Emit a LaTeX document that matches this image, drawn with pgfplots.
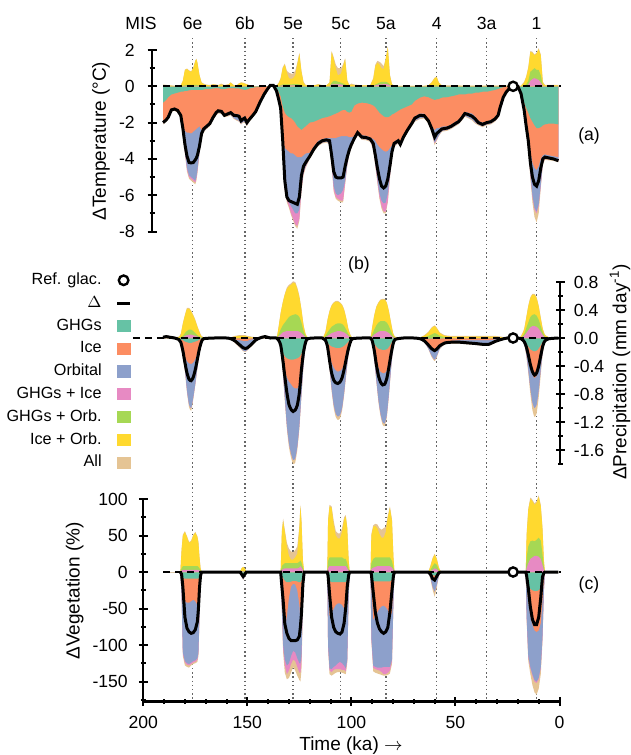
\documentclass[border=0pt]{standalone}
\usepackage{fontspec}
\setmainfont{Liberation Sans}
\usepackage{pgfplots}
\pgfplotsset{compat=1.18}
\usepackage{pgfplotstable}

\definecolor{cG}{RGB}{102,194,165}
\definecolor{cI}{RGB}{252,141,98}
\definecolor{cO}{RGB}{141,160,203}
\definecolor{cK}{RGB}{231,138,195}
\definecolor{cN}{RGB}{166,216,84}
\definecolor{cY}{RGB}{255,217,47}
\definecolor{cA}{RGB}{229,196,148}

% t = time (ka); d = Delta; g,i,o,k,a = cumulative negative boundaries (GHGs, Ice, Orbital, GHGs+Ice, All)
% pk,pg,py,pa = cumulative positive boundaries (GHGs+Ice, GHGs+Orb., Ice+Orb., All)
\pgfplotstableread{
t d g i o k a pk pg py pa
190.5 -2.00 -0.90 -1.95 -2.05 -2.05 -2.10 0 0 0.05 0.10
189 -1.85 -0.75 -1.80 -1.90 -1.90 -1.95 0 0 0.05 0.08
188 -1.70 -0.60 -1.65 -1.75 -1.75 -1.80 0 0 0.05 0.05
186.5 -1.30 -0.45 -1.25 -1.35 -1.35 -1.40 0 0 0.03 0.05
185 -1.25 -0.40 -1.20 -1.30 -1.30 -1.35 0 0 0.02 0.03
183.5 -1.33 -0.35 -1.28 -1.40 -1.40 -1.45 0 0 0.02 0.03
182 -1.60 -0.30 -1.55 -1.70 -1.70 -1.75 0 0 0.05 0.05
181 -2.30 -0.30 -2.20 -2.50 -2.50 -2.55 0 0.03 0.30 0.30
180 -3.20 -0.25 -2.45 -3.60 -3.65 -3.70 0.02 0.05 0.90 0.92
179 -3.85 -0.25 -2.55 -4.50 -4.60 -4.70 0.03 0.08 0.95 0.98
178 -4.20 -0.22 -2.55 -4.90 -5.00 -5.10 0.03 0.08 0.85 0.88
177 -4.22 -0.20 -2.60 -5.00 -5.10 -5.20 0.03 0.08 0.80 0.82
176 -4.20 -0.20 -2.50 -5.10 -5.20 -5.30 0.03 0.08 1.00 1.02
175 -4.05 -0.20 -2.40 -5.20 -5.30 -5.40 0.03 0.08 1.40 1.42
174.5 -3.95 -0.20 -2.35 -5.00 -5.10 -5.20 0.03 0.08 1.50 1.52
174 -3.80 -0.20 -2.30 -4.60 -4.70 -4.80 0.03 0.06 1.30 1.32
173 -3.30 -0.20 -2.20 -3.60 -3.65 -3.70 0.02 0.05 0.60 0.62
172 -2.60 -0.20 -2.40 -2.80 -2.80 -2.85 0 0.03 0.20 0.22
171 -2.35 -0.18 -2.30 -2.50 -2.50 -2.55 0 0 0.12 0.15
170 -2.25 -0.15 -2.20 -2.35 -2.35 -2.40 0 0 0.08 0.10
168 -2.05 -0.15 -2.00 -2.15 -2.15 -2.20 0 0 0.05 0.07
166.5 -1.72 -0.12 -1.65 -1.80 -1.80 -1.85 0 0 0.10 0.12
165 -1.45 -0.10 -1.40 -1.55 -1.55 -1.60 0 0 0.08 0.10
164 -1.35 -0.10 -1.30 -1.45 -1.45 -1.50 0 0 0.05 0.07
162.5 -1.38 -0.15 -1.32 -1.48 -1.48 -1.52 0 0 0.10 0.15
161 -1.60 -0.15 -1.55 -1.65 -1.65 -1.70 0 0 0.05 0.07
159 -1.50 -0.10 -1.45 -1.60 -1.60 -1.65 0 0 0.10 0.12
158 -1.45 -0.10 -1.40 -1.55 -1.55 -1.60 0 0 0.20 0.22
156.5 -1.60 -0.10 -1.50 -1.75 -1.75 -1.80 0 0 0.05 0.07
155 -1.62 -0.12 -1.52 -1.85 -1.85 -1.90 0 0 0.05 0.07
154 -1.65 -0.12 -1.55 -1.90 -1.90 -1.95 0 0 0.15 0.17
153 -1.90 -0.15 -1.75 -2.05 -2.05 -2.10 0 0 0.20 0.22
152 -1.80 -0.18 -1.70 -1.95 -1.95 -2.00 0 0 0.18 0.20
151.3 -1.75 -0.20 -1.65 -1.95 -1.95 -2.00 0 0 0.15 0.17
150.2 -2.00 -0.18 -1.85 -2.15 -2.15 -2.20 0 0 0.10 0.12
149 -1.82 -0.12 -1.75 -1.90 -1.90 -1.95 0 0 0.05 0.07
147.5 -1.62 -0.08 -1.58 -1.68 -1.68 -1.72 0 0 0.02 0.03
146 -1.40 -0.05 -1.35 -1.45 -1.45 -1.50 0 0 0 0
144 -0.90 -0.05 -0.85 -0.95 -0.95 -1.00 0 0 0 0
142 -0.45 0 -0.42 -0.50 -0.50 -0.52 0 0 0 0
140 -0.10 0 -0.10 -0.12 -0.12 -0.14 0 0 0 0
139 0.05 0 0 0 0 0 0 0 0 0.05
137.5 0.05 0 0 0 0 0 0 0 0 0.05
136 -0.25 -0.10 -0.25 -0.28 -0.28 -0.30 0 0 0.02 0.05
135 -0.70 -0.30 -0.70 -0.75 -0.75 -0.80 0 0.03 0.15 0.20
134 -1.20 -0.55 -1.25 -1.30 -1.30 -1.35 0.03 0.06 0.40 0.45
133 -3.00 -1.10 -2.80 -3.30 -3.35 -3.40 0.05 0.10 1.00 1.05
132 -5.20 -1.45 -3.40 -5.60 -5.70 -5.80 0.05 0.10 1.20 1.25
131 -6.10 -1.60 -3.50 -6.20 -6.30 -6.40 0.05 0.10 0.75 0.85
130 -6.30 -1.70 -3.60 -6.40 -6.60 -6.70 0.05 0.10 0.45 0.75
129 -6.35 -1.75 -3.70 -6.60 -7.00 -7.10 0.05 0.10 0.40 0.70
128 -6.40 -1.85 -3.70 -6.80 -7.30 -7.40 0.05 0.12 0.45 0.70
127 -6.45 -2.00 -3.80 -7.00 -7.60 -7.70 0.05 0.12 0.60 0.85
126 -6.50 -2.20 -3.90 -7.00 -7.70 -7.85 0.05 0.12 1.20 1.30
125 -6.10 -2.30 -3.90 -6.80 -7.30 -7.40 0.05 0.10 1.80 1.85
124 -4.90 -2.40 -3.90 -5.50 -5.70 -5.80 0.03 0.06 0.80 0.85
123 -4.40 -2.30 -3.80 -4.70 -4.80 -4.90 0 0.03 0.20 0.25
122 -4.20 -2.20 -3.70 -4.40 -4.45 -4.50 0 0 0.05 0.08
120 -3.85 -2.00 -3.65 -3.95 -3.95 -4.00 0 0 0.05 0.05
118 -3.45 -1.95 -3.30 -3.55 -3.55 -3.60 0 0 0.05 0.05
116 -3.15 -1.85 -3.00 -3.25 -3.25 -3.30 0 0 0.10 0.12
114 -3.00 -1.75 -2.90 -3.10 -3.10 -3.15 0 0 0.05 0.07
112 -2.95 -1.70 -2.85 -3.05 -3.05 -3.10 0 0 0.05 0.05
110.5 -3.00 -1.65 -2.85 -3.15 -3.15 -3.20 0 0 0.20 0.22
109.5 -3.80 -1.60 -2.85 -4.20 -4.30 -4.40 0.10 0.20 1.90 1.95
108.5 -4.70 -1.55 -2.85 -5.50 -5.70 -5.80 0.10 0.30 1.50 1.60
107.5 -5.00 -1.50 -2.85 -5.90 -6.10 -6.20 0.10 0.30 1.00 1.20
106.5 -5.05 -1.45 -2.80 -6.00 -6.20 -6.30 0.10 0.25 0.60 1.00
105 -5.05 -1.35 -2.75 -5.90 -6.30 -6.40 0.10 0.20 0.70 1.00
104 -5.00 -1.30 -2.75 -5.70 -6.30 -6.40 0.08 0.15 1.10 1.20
103 -4.40 -1.30 -2.75 -5.20 -5.30 -5.40 0.05 0.10 1.50 1.55
102 -3.90 -1.40 -2.75 -4.30 -4.35 -4.40 0 0.05 0.30 0.35
101 -3.50 -1.45 -2.80 -3.70 -3.70 -3.75 0 0 0.05 0.08
100 -3.20 -1.40 -2.80 -3.35 -3.35 -3.40 0 0 0.10 0.15
98.5 -2.85 -1.05 -2.75 -2.95 -2.95 -3.00 0 0 0.05 0.10
97 -2.55 -0.95 -2.45 -2.65 -2.65 -2.70 0 0 0.05 0.08
95 -2.80 -0.90 -2.70 -2.90 -2.90 -2.95 0 0 0.05 0.05
93 -2.82 -0.92 -2.72 -2.92 -2.92 -2.97 0 0 0.05 0.05
91 -2.90 -0.98 -2.80 -3.00 -3.00 -3.05 0 0 0.05 0.05
89.5 -3.15 -1.05 -2.90 -3.40 -3.40 -3.50 0 0.02 0.40 0.45
88.5 -3.80 -1.15 -3.00 -4.20 -4.30 -4.40 0.05 0.10 1.10 1.20
87.5 -4.50 -1.30 -3.20 -5.10 -5.25 -5.35 0.08 0.15 1.30 1.40
86.5 -5.10 -1.45 -3.35 -5.90 -6.10 -6.20 0.10 0.20 1.20 1.35
85.5 -5.50 -1.55 -3.45 -6.30 -6.60 -6.75 0.10 0.25 1.00 1.25
84.5 -5.60 -1.65 -3.55 -6.45 -6.90 -7.00 0.12 0.25 0.95 1.10
83.5 -5.50 -1.70 -3.60 -6.40 -6.90 -7.00 0.12 0.25 1.50 1.55
82.5 -5.10 -1.70 -3.55 -5.90 -6.30 -6.40 0.10 0.20 2.15 2.18
81.5 -4.40 -1.65 -3.40 -4.90 -5.00 -5.10 0.05 0.10 0.60 0.65
80.5 -3.60 -1.55 -3.25 -3.80 -3.85 -3.90 0 0.03 0.10 0.12
79.5 -3.15 -1.50 -3.05 -3.30 -3.30 -3.35 0 0 0.05 0.05
77.5 -3.00 -1.35 -2.90 -3.10 -3.10 -3.15 0 0 0.02 0.03
76.5 -3.20 -1.28 -3.10 -3.30 -3.30 -3.35 0 0 0.02 0.03
75 -2.80 -1.20 -2.70 -2.90 -2.90 -2.95 0 0 0.02 0.03
73 -2.40 -1.10 -2.30 -2.50 -2.50 -2.55 0 0 0.02 0.03
71 -2.05 -1.00 -1.95 -2.15 -2.15 -2.20 0 0 0.02 0.03
69.5 -1.75 -0.80 -1.65 -1.90 -1.90 -1.95 0 0 0.02 0.03
67 -1.60 -0.62 -1.50 -1.75 -1.75 -1.80 0 0 0.02 0.03
65 -1.62 -0.55 -1.50 -1.72 -1.72 -1.78 0 0 0.02 0.03
63 -1.90 -0.60 -1.80 -2.00 -2.00 -2.05 0 0 0.05 0.05
61.5 -2.30 -0.68 -2.15 -2.50 -2.50 -2.55 0 0.02 0.20 0.22
60 -2.80 -0.75 -2.40 -3.10 -3.15 -3.25 0 0.05 0.45 0.48
59 -2.60 -0.72 -2.30 -2.90 -2.95 -3.00 0 0.05 0.50 0.52
58 -2.50 -0.70 -2.30 -2.70 -2.70 -2.75 0 0.02 0.20 0.22
56.5 -2.35 -0.62 -2.22 -2.45 -2.45 -2.50 0 0 0.03 0.05
54 -2.30 -0.60 -2.20 -2.40 -2.40 -2.45 0 0 0.03 0.05
52 -2.20 -0.55 -2.10 -2.30 -2.30 -2.35 0 0 0.03 0.05
50 -2.05 -0.50 -1.95 -2.15 -2.15 -2.20 0 0 0.05 0.05
48.5 -1.95 -0.45 -1.85 -2.05 -2.05 -2.10 0 0 0.03 0.05
47 -1.75 -0.45 -1.65 -1.85 -1.85 -1.90 0 0 0.02 0.04
45.5 -1.50 -0.45 -1.40 -1.62 -1.62 -1.68 0 0 0.02 0.04
44 -1.55 -0.40 -1.45 -1.70 -1.70 -1.75 0 0 0.02 0.04
42 -1.65 -0.40 -1.50 -1.82 -1.82 -1.88 0 0 0.02 0.04
40.5 -1.80 -0.35 -1.65 -1.98 -1.98 -2.05 0 0 0.02 0.04
39 -2.00 -0.35 -1.90 -2.10 -2.10 -2.15 0 0 0.02 0.04
37 -2.10 -0.30 -2.00 -2.20 -2.20 -2.25 0 0 0.02 0.04
35 -2.00 -0.30 -1.95 -2.10 -2.10 -2.15 0 0 0.02 0.04
33 -1.95 -0.25 -1.85 -2.05 -2.05 -2.10 0 0 0.05 0.05
31 -1.80 -0.20 -1.75 -1.90 -1.90 -1.95 0 0 0.02 0.04
29.5 -1.60 -0.15 -1.50 -1.70 -1.70 -1.75 0 0 0.02 0.04
28.5 -1.15 -0.10 -1.10 -1.20 -1.20 -1.25 0 0 0.02 0.04
27 -0.60 -0.05 -0.55 -0.65 -0.65 -0.70 0 0 0.02 0.04
25.5 -0.30 0 -0.30 -0.35 -0.35 -0.38 0 0 0.02 0.04
24 -0.12 0 -0.10 -0.15 -0.15 -0.17 0 0 0.02 0.04
22.3 0 0 0 0 0 0 0 0 0 0
20 0 0 0 0 0 0 0 0 0 0
18.5 -0.40 -0.35 -0.40 -0.45 -0.45 -0.50 0 0 0.02 0.04
17 -1.30 -0.90 -1.40 -1.45 -1.45 -1.50 0 0.05 0.20 0.25
16 -2.20 -1.20 -2.30 -2.50 -2.50 -2.55 0.02 0.10 0.50 0.55
15 -3.00 -1.45 -3.00 -3.30 -3.35 -3.45 0.10 0.30 1.00 1.05
14 -4.20 -1.75 -3.60 -4.80 -4.90 -5.10 0.30 0.80 1.90 1.95
13 -5.00 -1.95 -4.20 -6.00 -6.10 -6.40 0.40 0.90 1.85 1.90
12 -5.40 -2.15 -4.50 -6.70 -6.80 -7.20 0.45 1.00 1.70 1.75
11 -5.50 -2.30 -4.60 -6.90 -7.00 -7.50 0.40 0.90 1.80 1.85
10 -5.20 -2.30 -4.40 -6.50 -6.60 -7.00 0.35 0.90 2.05 2.10
9 -4.50 -2.25 -4.00 -5.40 -5.50 -5.60 0.20 0.60 1.70 1.75
8 -4.00 -2.15 -3.80 -4.20 -4.25 -4.30 0.02 0.05 0.20 0.25
7 -3.90 -2.10 -3.75 -3.95 -4.00 -4.05 0 0 0.05 0.08
5 -3.95 -2.05 -3.80 -3.98 -4.02 -4.08 0 0 0.05 0.08
3 -4.00 -2.05 -3.85 -4.02 -4.06 -4.10 0 0 0.05 0.08
0.5 -4.10 -2.10 -3.90 -4.08 -4.12 -4.18 0 0 0.05 0.08
}\tabA

\pgfplotstableread{
t d g i o k a pk pg py pa
190.5 0.01 0 0 0 0 0 0 0 0.01 0.02
189 0.02 0 0 0 0 0 0 0 0.02 0.03
187 0.01 0 0 0 0 0 0 0 0.01 0.02
185 0 0 0 0 0 0 0 0 0 0.01
183 -0.02 -0.01 -0.02 -0.03 -0.03 -0.04 0 0 0.01 0.02
182 -0.06 -0.02 -0.06 -0.08 -0.08 -0.09 0 0.01 0.05 0.06
181 -0.18 -0.03 -0.17 -0.25 -0.25 -0.27 0.01 0.03 0.20 0.21
180 -0.35 -0.05 -0.27 -0.45 -0.45 -0.48 0.03 0.07 0.32 0.33
179 -0.50 -0.06 -0.33 -0.75 -0.75 -0.78 0.04 0.10 0.42 0.43
178 -0.59 -0.07 -0.36 -0.95 -0.95 -0.99 0.05 0.12 0.42 0.43
177 -0.61 -0.07 -0.37 -1.00 -1.00 -1.04 0.05 0.12 0.38 0.39
176 -0.56 -0.06 -0.35 -0.85 -0.85 -0.88 0.04 0.10 0.32 0.33
175 -0.45 -0.05 -0.30 -0.65 -0.65 -0.67 0.03 0.07 0.25 0.26
174 -0.30 -0.04 -0.22 -0.42 -0.42 -0.44 0.02 0.04 0.16 0.17
173 -0.15 -0.02 -0.12 -0.22 -0.22 -0.23 0.01 0.02 0.08 0.09
172 -0.05 -0.01 -0.04 -0.08 -0.08 -0.09 0 0.01 0.02 0.03
171 -0.01 0 -0.01 -0.02 -0.02 -0.02 0 0 0 0.01
166 0 0 0 0 0 0 0 0 0 0
160 0 0 0 0 0 0 0 0 0 0
158 -0.01 0 -0.01 -0.02 -0.02 -0.02 0 0 0.01 0.01
156 -0.04 0 -0.02 -0.06 -0.06 -0.07 0 0 0.02 0.03
154 -0.09 0 -0.03 -0.12 -0.12 -0.13 0 0 0.03 0.04
152 -0.14 0 -0.04 -0.18 -0.18 -0.19 0 0 0.03 0.04
151 -0.15 0 -0.04 -0.19 -0.19 -0.20 0 0 0.03 0.04
150 -0.14 0 -0.04 -0.17 -0.17 -0.18 0 0 0.02 0.03
148 -0.09 0 -0.02 -0.11 -0.11 -0.12 0 0 0.01 0.02
146 -0.03 0 -0.01 -0.04 -0.04 -0.05 0 0 0 0.01
144 0 0 0 0 0 0 0 0 0 0
141.5 0.02 0 0 0 0 0 0 0 0.01 0.02
139 0 0 0 0 0 0 0 0 0 0
136 0 0 0 0 0 0 0 0 0 0
135 -0.03 -0.02 -0.03 -0.04 -0.04 -0.05 0.02 0.05 0.15 0.16
134 -0.10 -0.08 -0.12 -0.15 -0.15 -0.17 0.05 0.12 0.35 0.36
133 -0.30 -0.20 -0.28 -0.45 -0.45 -0.48 0.08 0.18 0.50 0.51
132 -0.55 -0.26 -0.45 -0.85 -0.85 -0.90 0.09 0.22 0.62 0.63
131 -0.78 -0.29 -0.56 -1.25 -1.25 -1.30 0.10 0.26 0.70 0.72
130 -0.95 -0.30 -0.62 -1.50 -1.50 -1.56 0.10 0.30 0.74 0.76
129 -1.02 -0.31 -0.66 -1.65 -1.65 -1.71 0.10 0.32 0.76 0.78
128 -1.05 -0.31 -0.70 -1.74 -1.74 -1.80 0.10 0.33 0.79 0.81
127 -1.03 -0.30 -0.72 -1.72 -1.72 -1.78 0.10 0.34 0.78 0.80
126 -0.96 -0.29 -0.72 -1.55 -1.55 -1.60 0.10 0.33 0.70 0.72
125 -0.78 -0.27 -0.66 -1.25 -1.25 -1.30 0.09 0.30 0.58 0.60
124 -0.45 -0.22 -0.50 -0.80 -0.80 -0.84 0.07 0.22 0.40 0.41
123 -0.20 -0.14 -0.25 -0.38 -0.38 -0.40 0.04 0.10 0.18 0.19
122 -0.06 -0.05 -0.08 -0.12 -0.12 -0.13 0.01 0.03 0.05 0.06
121 -0.01 -0.01 -0.01 -0.02 -0.02 -0.02 0 0 0.01 0.01
118 0 0 0 0 0 0 0 0 0 0
114 0 0 0 0 0 0 0 0 0 0
112.5 -0.03 -0.02 -0.03 -0.04 -0.04 -0.05 0.01 0.03 0.08 0.09
111.5 -0.12 -0.06 -0.12 -0.18 -0.18 -0.20 0.03 0.08 0.25 0.26
110.5 -0.32 -0.10 -0.25 -0.42 -0.42 -0.45 0.05 0.12 0.38 0.39
109.5 -0.50 -0.12 -0.35 -0.72 -0.72 -0.76 0.07 0.16 0.46 0.47
108.5 -0.60 -0.13 -0.42 -0.95 -0.95 -1.00 0.08 0.18 0.50 0.51
107.5 -0.64 -0.14 -0.46 -1.08 -1.08 -1.13 0.09 0.20 0.52 0.53
106.5 -0.65 -0.14 -0.48 -1.12 -1.12 -1.17 0.10 0.21 0.52 0.53
105.5 -0.63 -0.14 -0.47 -1.10 -1.10 -1.15 0.10 0.21 0.50 0.51
104.5 -0.57 -0.13 -0.44 -1.00 -1.00 -1.04 0.09 0.20 0.47 0.48
103.5 -0.45 -0.11 -0.37 -0.78 -0.78 -0.82 0.08 0.17 0.40 0.41
102.5 -0.30 -0.08 -0.27 -0.50 -0.50 -0.53 0.06 0.12 0.28 0.29
101.5 -0.16 -0.05 -0.15 -0.25 -0.25 -0.27 0.03 0.06 0.13 0.14
100.5 -0.06 -0.02 -0.06 -0.09 -0.09 -0.10 0.01 0.02 0.04 0.05
99.5 -0.01 0 -0.01 -0.02 -0.02 -0.02 0 0 0 0.01
95 0 0 0 0 0 0 0 0 0 0
91 0 0 0 0 0 0 0 0 0 0
90 -0.04 -0.03 -0.05 -0.06 -0.06 -0.07 0.02 0.05 0.15 0.16
89 -0.18 -0.08 -0.18 -0.30 -0.30 -0.32 0.05 0.12 0.32 0.33
88 -0.38 -0.12 -0.32 -0.60 -0.60 -0.63 0.07 0.18 0.44 0.45
87 -0.54 -0.15 -0.42 -0.88 -0.88 -0.92 0.09 0.22 0.50 0.51
86 -0.63 -0.16 -0.48 -1.08 -1.08 -1.12 0.10 0.24 0.54 0.55
85 -0.67 -0.17 -0.50 -1.20 -1.20 -1.24 0.10 0.24 0.55 0.56
84 -0.66 -0.17 -0.50 -1.22 -1.22 -1.26 0.10 0.24 0.55 0.56
83 -0.58 -0.16 -0.46 -1.10 -1.10 -1.14 0.09 0.22 0.50 0.51
82 -0.42 -0.13 -0.36 -0.80 -0.80 -0.84 0.07 0.17 0.38 0.39
81 -0.24 -0.08 -0.22 -0.45 -0.45 -0.47 0.04 0.10 0.22 0.23
80 -0.09 -0.03 -0.08 -0.15 -0.15 -0.16 0.01 0.03 0.07 0.08
79 -0.02 0 -0.01 -0.03 -0.03 -0.03 0 0 0.01 0.02
75 0 0 0 0 0 0 0 0 0 0
70 0 0 0 0 0 0 0 0 0 0
67 -0.01 0 -0.01 -0.02 -0.02 -0.02 0 0 0.01 0.01
65 -0.04 0 -0.04 -0.06 -0.06 -0.06 0 0.01 0.03 0.04
63 -0.10 -0.01 -0.10 -0.15 -0.15 -0.16 0 0.03 0.08 0.09
61.5 -0.15 -0.01 -0.15 -0.25 -0.25 -0.27 0 0.05 0.14 0.15
60 -0.18 -0.01 -0.19 -0.31 -0.31 -0.33 0 0.07 0.17 0.18
59 -0.16 -0.01 -0.16 -0.26 -0.26 -0.28 0 0.06 0.14 0.15
57.5 -0.11 -0.01 -0.10 -0.15 -0.15 -0.16 0 0.03 0.07 0.08
55 -0.07 0 -0.05 -0.08 -0.08 -0.09 0 0.01 0.03 0.04
52 -0.06 0 -0.04 -0.07 -0.07 -0.08 0 0 0.02 0.03
48 -0.06 0 -0.03 -0.07 -0.07 -0.08 0 0 0.02 0.03
44 -0.07 0 -0.03 -0.08 -0.08 -0.09 0 0 0.02 0.03
40 -0.08 0 -0.03 -0.09 -0.09 -0.10 0 0 0.02 0.03
37 -0.09 0 -0.03 -0.10 -0.10 -0.11 0 0 0.02 0.03
34 -0.09 0 -0.03 -0.10 -0.10 -0.11 0 0 0.02 0.03
31 -0.05 0 -0.02 -0.06 -0.06 -0.07 0 0 0.02 0.03
28 -0.02 0 -0.01 -0.02 -0.02 -0.03 0 0 0.01 0.02
25 0 0 0 0 0 0 0 0 0 0
20 0 0 0 0 0 0 0 0 0 0
18.5 -0.01 -0.01 -0.01 -0.02 -0.02 -0.02 0 0 0.02 0.03
17 -0.05 -0.04 -0.06 -0.08 -0.08 -0.09 0.03 0.06 0.12 0.13
16 -0.12 -0.08 -0.14 -0.22 -0.22 -0.25 0.07 0.14 0.28 0.29
15 -0.24 -0.12 -0.26 -0.45 -0.45 -0.50 0.11 0.22 0.45 0.46
14 -0.38 -0.16 -0.40 -0.72 -0.72 -0.80 0.15 0.30 0.57 0.58
13 -0.48 -0.18 -0.52 -0.92 -0.92 -1.03 0.17 0.33 0.62 0.63
12 -0.53 -0.19 -0.57 -1.00 -1.00 -1.13 0.17 0.34 0.62 0.63
11 -0.50 -0.18 -0.54 -0.95 -0.95 -1.08 0.16 0.32 0.57 0.58
10 -0.40 -0.15 -0.45 -0.75 -0.75 -0.85 0.13 0.26 0.45 0.46
9 -0.25 -0.10 -0.30 -0.45 -0.45 -0.52 0.09 0.17 0.28 0.29
8 -0.11 -0.05 -0.13 -0.18 -0.18 -0.21 0.04 0.08 0.12 0.13
7 -0.04 -0.02 -0.04 -0.06 -0.06 -0.07 0.01 0.02 0.04 0.05
5 -0.01 0 -0.01 -0.01 -0.01 -0.01 0 0 0.01 0.01
0.5 0 0 0 0 0 0 0 0 0 0
}\tabB

\pgfplotstableread{
t d g i o k a pk pg py pa
190.5 nan 0 0 0 0 0 0 0 0 0
182.2 0 0 0 0 0 0 0 0 0 0
181.6 -3 -2 -10 -30 -30 -32 2 5 30 31
181 -20 -8 -30 -110 -112 -115 3 8 50 51
180 -62 -9 -40 -122 -124 -128 3 8 55 56
179 -77 -9 -42 -125 -127 -130 3 8 48 49
178 -82 -9 -42 -126 -128 -131 3 8 40 41
177 -84 -9 -40 -124 -126 -128 3 8 42 43
176 -83 -9 -38 -122 -124 -126 3 8 50 51
175 -79 -9 -40 -121 -123 -125 3 8 54 55
174 -68 -9 -45 -118 -120 -123 3 8 48 49
173.5 -50 -9 -45 -110 -112 -115 3 7 40 41
173 -22 -7 -30 -60 -62 -65 2 5 20 21
172.5 -5 -2 -6 -10 -10 -12 1 2 5 6
172 0 0 0 0 0 0 0 0 0 0
153.5 0 0 0 0 0 0 0 0 0 0
152.8 -3 -2 -3 -6 -6 -7 0 0 5 5
152 -6 -3 -5 -10 -10 -11 1 2 7 7
151.2 -3 -2 -3 -6 -6 -7 0 0 5 5
150.5 0 0 0 0 0 0 0 0 0 0
134 0 0 0 0 0 0 0 0 0 0
133.4 -20 -5 -25 -50 -52 -55 3 8 55 58
132.8 -39 -8 -60 -100 -105 -110 4 10 70 73
132 -71 -12 -78 -120 -128 -138 5 12 55 58
131 -84 -14 -60 -128 -140 -147 5 12 35 40
130 -91 -14 -35 -125 -135 -145 5 12 22 32
129 -94 -13 -20 -115 -126 -138 5 12 17 28
128 -94 -12 -16 -108 -120 -130 5 12 17 27
127 -94 -12 -17 -110 -122 -135 5 12 20 30
126 -93 -13 -25 -118 -130 -142 5 12 25 35
125 -88 -14 -45 -125 -138 -148 6 14 60 63
124.5 -75 -14 -65 -125 -138 -150 8 16 90 92
124 -57 -12 -60 -115 -125 -135 6 13 70 72
123.3 -16 -5 -20 -40 -42 -45 3 6 15 16
122.7 0 0 0 0 0 0 0 0 0 0
111.6 0 0 0 0 0 0 0 0 0 0
111.2 -5 -5 -20 -100 -102 -105 5 15 70 72
110.5 -30 -12 -60 -132 -135 -140 8 20 90 92
109.5 -62 -14 -55 -133 -137 -142 8 20 88 90
108.5 -76 -14 -50 -130 -134 -140 8 20 65 70
107.5 -82 -14 -45 -128 -133 -138 8 20 50 56
106.5 -84 -14 -43 -125 -133 -137 8 20 46 53
105.5 -85 -14 -43 -123 -133 -137 8 20 46 53
104.5 -82 -14 -45 -125 -134 -138 8 20 55 60
103.5 -70 -14 -50 -128 -134 -139 8 18 72 75
102.7 -48 -14 -58 -132 -136 -140 8 18 76 78
102 -20 -10 -40 -120 -122 -125 5 12 60 62
101.3 -4 -3 -10 -30 -30 -32 2 4 15 16
100.8 0 0 0 0 0 0 0 0 0 0
90.8 0 0 0 0 0 0 0 0 0 0
90.4 -3 -5 -20 -90 -92 -95 4 12 50 52
89.5 -28 -12 -65 -128 -131 -136 6 18 62 64
88.5 -55 -13 -60 -130 -133 -138 7 20 63 66
87.5 -70 -13 -55 -131 -134 -139 8 20 60 65
86.5 -78 -13 -50 -131 -135 -140 8 20 52 60
85.5 -82 -13 -47 -131 -137 -141 8 20 47 58
84.5 -84 -13 -46 -130 -140 -142 8 20 47 60
83.5 -82 -13 -48 -130 -140 -142 8 20 55 62
82.5 -76 -13 -52 -130 -138 -141 8 20 75 77
81.5 -55 -13 -62 -130 -135 -139 8 20 88 90
80.5 -25 -10 -55 -120 -122 -126 6 15 70 72
79.8 -5 -4 -15 -40 -40 -42 3 6 20 21
79.3 0 0 0 0 0 0 0 0 0 0
63 0 0 0 0 0 0 0 0 0 0
62 -3 -2 -4 -8 -8 -10 1 3 8 9
61 -9 -4 -10 -20 -20 -24 3 8 18 19
60 -11 -5 -12 -27 -27 -34 5 12 24 25
59 -6 -4 -8 -18 -18 -22 4 10 18 19
58 -1 -1 -2 -5 -5 -6 1 3 6 7
57 0 0 0 0 0 0 0 0 0 0
16.2 0 0 0 0 0 0 0 0 0 0
15.8 -5 -10 -20 -60 -62 -65 5 20 50 52
15 -22 -20 -40 -115 -117 -122 12 35 85 87
14 -48 -23 -60 -130 -132 -140 18 42 100 102
13 -65 -25 -72 -140 -142 -155 20 43 97 99
12 -72 -26 -80 -148 -150 -165 22 42 92 94
11 -72 -26 -82 -150 -152 -168 22 44 95 97
10 -62 -25 -80 -145 -147 -160 21 47 103 105
9 -35 -22 -70 -130 -132 -140 18 43 90 92
8.2 -7 -15 -40 -90 -92 -96 10 25 60 62
7.5 -1 -5 -10 -25 -25 -27 3 6 15 16
7 0 0 0 0 0 0 0 0 0 0
0.5 0 0 0 0 0 0 0 0 0 0
}\tabC

\newcommand\fa{\fontsize{8.8}{10}\selectfont}
\newcommand\fl{\fontsize{9.5}{11}\selectfont}
\newcommand\fg{\fontsize{8.1}{9.5}\selectfont}

\newcommand\layers[2]{%
  \addplot[forget plot, draw=none, fill=cA, #2] table[x=t,y=a]{#1} \closedcycle;
  \addplot[forget plot, draw=none, fill=cK, #2] table[x=t,y=k]{#1} \closedcycle;
  \addplot[forget plot, draw=none, fill=cO, #2] table[x=t,y=o]{#1} \closedcycle;
  \addplot[forget plot, draw=none, fill=cI, #2] table[x=t,y=i]{#1} \closedcycle;
  \addplot[forget plot, draw=none, fill=cG, #2] table[x=t,y=g]{#1} \closedcycle;
  \addplot[forget plot, draw=none, fill=cA, #2] table[x=t,y=pa]{#1} \closedcycle;
  \addplot[forget plot, draw=none, fill=cY, #2] table[x=t,y=py]{#1} \closedcycle;
  \addplot[forget plot, draw=none, fill=cN, #2] table[x=t,y=pg]{#1} \closedcycle;
  \addplot[forget plot, draw=none, fill=cK, #2] table[x=t,y=pk]{#1} \closedcycle;
}

\pgfplotsset{
  base/.style={
    x=1.0405pt, x dir=reverse,
    anchor=origin,
    tick align=inside,
    major tick length=4.5pt, minor tick length=2.5pt,
    every tick/.style={black, line width=1pt},
    tick label style={font=\fa},
    /pgf/number format/assume math mode=true,
    clip=false,
  },
  noarrows/.style={
    axis line style={-, line width=1.1pt},
    x axis line style={-}, y axis line style={-},
    every outer x axis line/.append style={-},
    every outer y axis line/.append style={-},
  },
  zeroline/.style={forget plot, black, line width=0.9pt, dash pattern=on 3.5pt off 2.5pt},
  delta/.style={forget plot, black, line width=1.5pt},
  refc/.style={forget plot, only marks, mark=*, mark size=2.3pt, mark options={fill=white, draw=black, line width=1.2pt}},
  mis/.style={forget plot, black!60, line width=0.7pt, dash pattern=on 0.7pt off 1.4pt},
}

\begin{document}
\begin{tikzpicture}
\path[use as bounding box] (0,0) rectangle (315.5pt,-377.5pt);

% ---------- panel (a)
\begin{axis}[base,
  at={(279.75pt,-43.15pt)},
  y=9.075pt,
  xmin=-0.6, xmax=195.7, ymin=-8, ymax=2,
  axis x line=none, axis y line=left, noarrows,
  ytick={-8,-6,-4,-2,0,2}, minor ytick={-7,-5,-3,-1,1},
  yticklabel style={xshift=-3pt},
]
\foreach \m in {176.3,151.2,128.0,105.1,83.4,59.0,35.0,11.0}{
  \edef\tmp{\noexpand\addplot[mis] coordinates {(\m,2.66) (\m,-33.9)};}\tmp
}
\layers{\tabA}{}
\addplot[zeroline] coordinates {(190.5,0) (-0.5,0)};
\addplot[delta] table[x=t,y=d]{\tabA};
\addplot[refc] coordinates {(22.3,0)};
\node[font=\fa, anchor=base] at (axis cs:201.1,3.14) {MIS};
\node[font=\fa, anchor=base] at (axis cs:176.3,3.14) {6e};
\node[font=\fa, anchor=base] at (axis cs:151.2,3.14) {6b};
\node[font=\fa, anchor=base] at (axis cs:128.0,3.14) {5e};
\node[font=\fa, anchor=base] at (axis cs:105.1,3.14) {5c};
\node[font=\fa, anchor=base] at (axis cs:83.4,3.14) {5a};
\node[font=\fa, anchor=base] at (axis cs:59.0,3.14) {4};
\node[font=\fa, anchor=base] at (axis cs:35.0,3.14) {3a};
\node[font=\fa, anchor=base] at (axis cs:11.0,3.14) {1};
\end{axis}

% ---------- panel (b)
\begin{axis}[base,
  at={(279.75pt,-169pt)},
  y=35pt,
  xmin=-0.4, xmax=200, ymin=-1.8, ymax=0.8,
  axis x line=none, axis y line=right, noarrows,
  ytick={-1.6,-1.2,-0.8,-0.4,0,0.4,0.8},
  minor ytick={-1.8,-1.4,-1.0,-0.6,-0.2,0.2,0.6},
  yticklabel style={xshift=1pt, /pgf/number format/.cd, fixed, fixed zerofill, precision=1},
  legend plot pos=right,
  legend cell align=right,
  legend style={at={(-0.028,1.055)}, anchor=north east, draw=none, fill=none,
    font=\fg, inner sep=0pt, outer sep=0pt, row sep=3.1pt, column sep=7pt,
    nodes={inner sep=0pt, text height=6.3pt, text depth=2pt}},
]
\addlegendimage{legend image code/.code={\draw[black, line width=1.2pt, fill=white] (3.25pt,0pt) circle (2.4pt);}}
\addlegendentry{Ref. glac.}
\addlegendimage{legend image code/.code={\draw[black, line width=1.5pt] (0pt,0pt) -- (6.5pt,0pt);}}
\addlegendentry{$\Delta$}
\addlegendimage{legend image code/.code={\fill[cG] (0pt,-2.8pt) rectangle (6.5pt,2.8pt);}}
\addlegendentry{GHGs}
\addlegendimage{legend image code/.code={\fill[cI] (0pt,-2.8pt) rectangle (6.5pt,2.8pt);}}
\addlegendentry{Ice}
\addlegendimage{legend image code/.code={\fill[cO] (0pt,-2.8pt) rectangle (6.5pt,2.8pt);}}
\addlegendentry{Orbital}
\addlegendimage{legend image code/.code={\fill[cK] (0pt,-2.8pt) rectangle (6.5pt,2.8pt);}}
\addlegendentry{GHGs + Ice}
\addlegendimage{legend image code/.code={\fill[cN] (0pt,-2.8pt) rectangle (6.5pt,2.8pt);}}
\addlegendentry{GHGs + Orb.}
\addlegendimage{legend image code/.code={\fill[cY] (0pt,-2.8pt) rectangle (6.5pt,2.8pt);}}
\addlegendentry{Ice + Orb.}
\addlegendimage{legend image code/.code={\fill[cA] (0pt,-2.8pt) rectangle (6.5pt,2.8pt);}}
\addlegendentry{All}
\layers{\tabB}{smooth, tension=0.3}
\addplot[zeroline] coordinates {(205,0) (-0.5,0)};
\addplot[delta, smooth, tension=0.4] table[x=t,y=d]{\tabB};
\addplot[refc] coordinates {(22.3,0)};
\end{axis}

% ---------- panel (c)
\begin{axis}[base,
  at={(279.75pt,-286pt)},
  y=0.365pt,
  xmin=-0.4, xmax=200, ymin=-177.5, ymax=100,
  axis x line=bottom, axis y line=left, noarrows,
  xtick={0,50,100,150,200},
  minor xtick={10,20,30,40,60,70,80,90,110,120,130,140,160,170,180,190},
  ytick={-150,-100,-50,0,50,100},
  minor ytick={-175,-125,-75,-25,25,75},
  yticklabel style={xshift=-2pt},
  xticklabel style={yshift=-1.5pt},
]
\layers{\tabC}{}
\addplot[zeroline] coordinates {(190.5,0) (-0.5,0)};
\addplot[delta] table[x=t,y=d]{\tabC};
\addplot[refc] coordinates {(22.3,0)};
\end{axis}

% ---------- labels
\node[font=\fl, rotate=90] at (50.5pt,-70.5pt) {ΔTemperature (°C)};
\node[font=\fl, rotate=90] at (37.3pt,-295.5pt) {ΔVegetation (\%)};
\node[font=\fl, rotate=90] at (310pt,-186pt) {ΔPrecipitation (mm day\textsuperscript{-1})};
\node[font=\fl] at (175.5pt,-373pt) {Time (ka) $\rightarrow$};
\node[font=\fa] at (294.5pt,-68pt) {(a)};
\node[font=\fa] at (179.5pt,-132.5pt) {(b)};
\node[font=\fa] at (294.5pt,-292.5pt) {(c)};
\end{tikzpicture}
\end{document}
